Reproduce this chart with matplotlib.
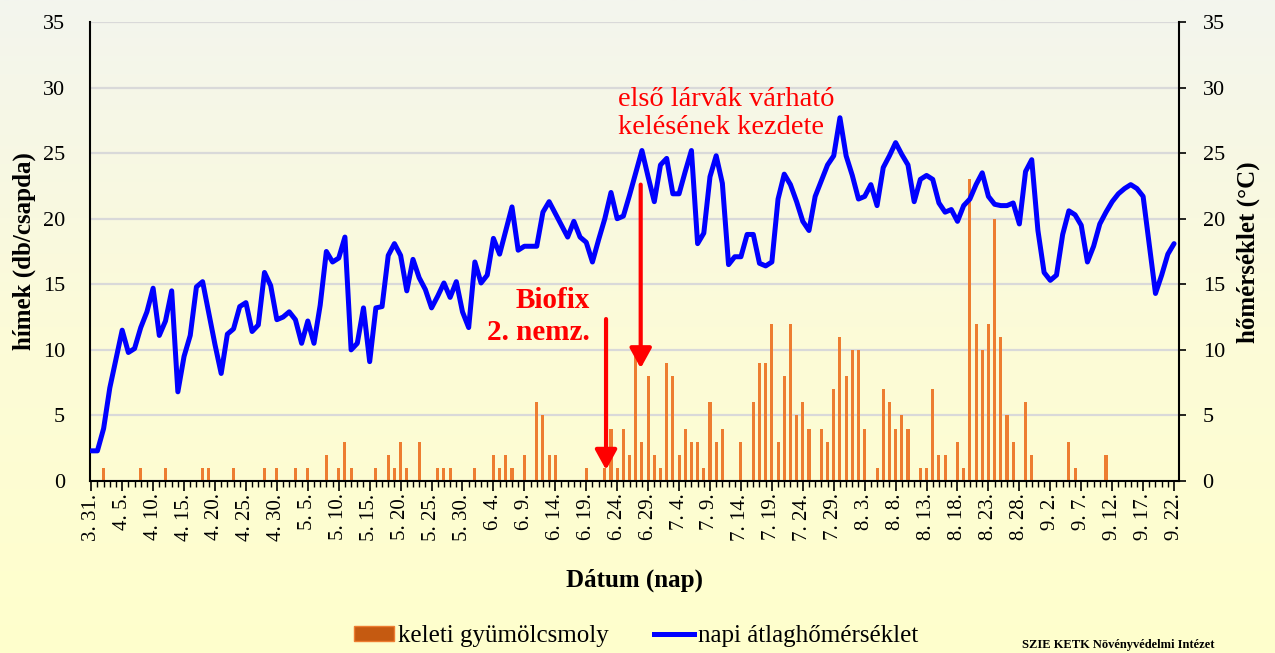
import numpy as np
import pandas as pd
import matplotlib
matplotlib.use("Agg")
import matplotlib.pyplot as plt
from matplotlib.colors import LinearSegmentedColormap
from matplotlib.patches import Patch
from matplotlib.lines import Line2D

plt.rcParams['font.family'] = ['Liberation Serif', 'DejaVu Serif']

# keleti gyümölcsmoly fogás (hím/csapda/nap), hónaponként 3.31 - 9.22
moth_mar = [0]
moth_apr = [0, 1, 0, 0, 0, 0, 0, 1, 0, 0, 0, 1, 0, 0, 0, 0, 0, 1, 1, 0,
            0, 0, 1, 0, 0, 0, 0, 1, 0, 1]
moth_may = [0, 0, 1, 0, 1, 0, 0, 2, 0, 1, 3, 1, 0, 0, 0, 1, 0, 2, 1, 3,
            1, 0, 3, 0, 0, 1, 1, 1, 0, 0, 0]
moth_jun = [1, 0, 0, 2, 1, 2, 1, 0, 2, 0, 6, 5, 2, 2, 0, 0, 0, 0, 1, 0,
            0, 1, 4, 1, 4, 2, 10, 3, 8, 2]
moth_jul = [1, 9, 8, 2, 4, 3, 3, 1, 6, 3, 4, 0, 0, 3, 0, 6, 9, 9, 12, 3,
            8, 12, 5, 6, 4, 0, 4, 3, 7, 11, 8]
moth_aug = [10, 10, 4, 0, 1, 7, 6, 4, 5, 4, 0, 1, 1, 7, 2, 2, 0, 3, 1, 23,
            12, 10, 12, 20, 11, 5, 3, 0, 6, 2, 0]
moth_sep = [0, 0, 0, 0, 3, 1, 0, 0, 0, 0, 2, 0, 0, 0, 0, 0, 0, 0, 0, 0,
            0, 0]

# napi átlaghőmérséklet (°C)
temp_mar = [2.3]
temp_apr = [2.3, 4.0, 7.1, 9.3, 11.5, 9.8, 10.1, 11.7, 12.9, 14.7,
            11.1, 12.2, 14.5, 6.8, 9.5, 11.1, 14.8, 15.2, 12.8, 10.4,
            8.2, 11.2, 11.6, 13.3, 13.6, 11.4, 11.9, 15.9, 14.9, 12.3]
temp_may = [12.5, 12.9, 12.3, 10.5, 12.2, 10.5, 13.4, 17.5, 16.7, 17.0,
            18.6, 10.0, 10.5, 13.2, 9.1, 13.2, 13.3, 17.2, 18.1, 17.2,
            14.5, 16.9, 15.5, 14.6, 13.2, 14.1, 15.1, 14.0, 15.2, 12.9, 11.7]
temp_jun = [16.7, 15.1, 15.7, 18.5, 17.3, 19.1, 20.9, 17.6, 17.9, 17.9,
            17.9, 20.5, 21.3, 20.4, 19.5, 18.6, 19.8, 18.6, 18.2, 16.7,
            18.4, 20.0, 22.0, 20.0, 20.2, 21.8, 23.5, 25.2, 23.2, 21.3]
temp_jul = [24.1, 24.6, 21.9, 21.9, 23.6, 25.2, 18.1, 18.9, 23.2, 24.8,
            22.7, 16.5, 17.1, 17.1, 18.8, 18.8, 16.6, 16.4, 16.7, 21.5,
            23.4, 22.6, 21.3, 19.8, 19.1, 21.7, 22.9, 24.1, 24.8, 27.7, 24.8]
temp_aug = [23.3, 21.5, 21.7, 22.6, 21.0, 23.9, 24.8, 25.8, 24.9, 24.1,
            21.3, 23.0, 23.3, 23.0, 21.2, 20.5, 20.7, 19.8, 21.0, 21.5,
            22.6, 23.5, 21.7, 21.1, 21.0, 21.0, 21.2, 19.6, 23.6, 24.5, 19.1]
temp_sep = [15.9, 15.3, 15.7, 18.8, 20.6, 20.3, 19.5, 16.7, 17.9, 19.6,
            20.5, 21.3, 21.9, 22.3, 22.6, 22.3, 21.7, 18.0, 14.3, 15.7,
            17.3, 18.1]

moth = moth_mar + moth_apr + moth_may + moth_jun + moth_jul + moth_aug + moth_sep
temp = temp_mar + temp_apr + temp_may + temp_jun + temp_jul + temp_aug + temp_sep

dates = pd.date_range('2000-03-31', periods=len(temp), freq='D')
labels = [f"{d.month}. {d.day}." for d in dates]
x = np.arange(len(temp))

W, H = 1275, 653
fig = plt.figure(figsize=(W / 100, H / 100), dpi=100)

# háttér színátmenet
bg = fig.add_axes([0, 0, 1, 1], zorder=-10)
cmap = LinearSegmentedColormap.from_list('bg', ['#f3f5ee', '#fcfbd8', '#ffffcc'])
bg.imshow(np.linspace(0, 1, 256).reshape(-1, 1), aspect='auto', cmap=cmap,
          extent=[0, 1, 0, 1], origin='upper')
bg.axis('off')

ax = fig.add_axes([90 / W, 1 - 481 / H, 1089 / W, 459 / H])
ax.set_facecolor('none')
ax.bar(x, moth, width=0.5, color='#ED7D31', zorder=2)
ax.set_ylim(0, 35)
ax.set_yticks(range(0, 36, 5))
ax.yaxis.grid(True, color='#d9d9d9', lw=1.6)
ax.set_axisbelow(True)
ax.set_xlim(-0.2, 175.8)
ax.set_xticks(x[::5])
ax.set_xticklabels(labels[::5], rotation=90, fontsize=15)
ax.set_xticks(x, minor=True)
ax.tick_params(axis='x', which='major', length=7, width=1.2, pad=2)
ax.tick_params(axis='x', which='minor', length=4, width=1)
ax.tick_params(axis='y', length=0, pad=18, labelsize=16)
for s in ['left', 'bottom']:
    ax.spines[s].set_linewidth(1.5)
ax.spines['top'].set_visible(False)
ax.spines['right'].set_visible(False)

ax2 = ax.twinx()
ax2.plot(x, temp, color='#0000ff', lw=3.6, solid_joinstyle='round',
         solid_capstyle='round', zorder=3)
ax2.set_ylim(0, 35)
ax2.set_yticks(range(0, 36, 5))
ax2.tick_params(axis='y', length=5, width=1.2, pad=12, labelsize=16)
ax2.spines['top'].set_visible(False)
ax2.spines['right'].set_linewidth(1.5)
ax2.spines['left'].set_visible(False)
ax2.spines['bottom'].set_visible(False)

arrow = dict(arrowstyle='-|>,head_length=0.6,head_width=0.33', color='red',
             lw=3, mutation_scale=20, shrinkA=0, shrinkB=0)
ax2.annotate('', xy=(88.8, 8.6), xytext=(88.8, 22.6), arrowprops=arrow)
ax2.annotate('', xy=(83.2, 0.85), xytext=(83.2, 12.35), arrowprops=arrow)

fig.text(618 / W, 1 - 113.5 / H, 'első lárvák várható\nkelésének kezdete',
         color='red', fontsize=20.5, ha='left', va='center', linespacing=1.15)
fig.text(590 / W, 1 - 316.5 / H, 'Biofix\n2. nemz.', color='red', fontsize=21,
         weight='bold', ha='right', va='center', multialignment='right',
         linespacing=1.27)

fig.text(635 / W, 1 - 580 / H, 'Dátum (nap)', fontsize=18, weight='bold',
         ha='center', va='center')
fig.text(24 / W, 1 - 251 / H, 'hímek (db/csapda)', fontsize=18, weight='bold',
         rotation=90, ha='center', va='center')
fig.text(1248 / W, 1 - 252 / H, 'hőmérséklet (°C)', fontsize=18, weight='bold',
         rotation=90, ha='center', va='center')

handles = [Patch(facecolor='#C55A11', edgecolor='#ED7D31'),
           Line2D([0], [0], color='#0000ff', lw=3.6)]
fig.legend(handles, ['keleti gyümölcsmoly', 'napi átlaghőmérséklet'],
           loc='center', bbox_to_anchor=(636 / W, 1 - 636 / H), ncol=2,
           frameon=False, fontsize=18, handlelength=1.6, handleheight=0.55,
           handletextpad=0.15, columnspacing=1.8)

fig.text(1022 / W, 1 - 651 / H, 'SZIE KETK Növényvédelmi Intézet',
         fontsize=9, weight='bold', ha='left', va='bottom')

fig.savefig('out.png', dpi=100)
